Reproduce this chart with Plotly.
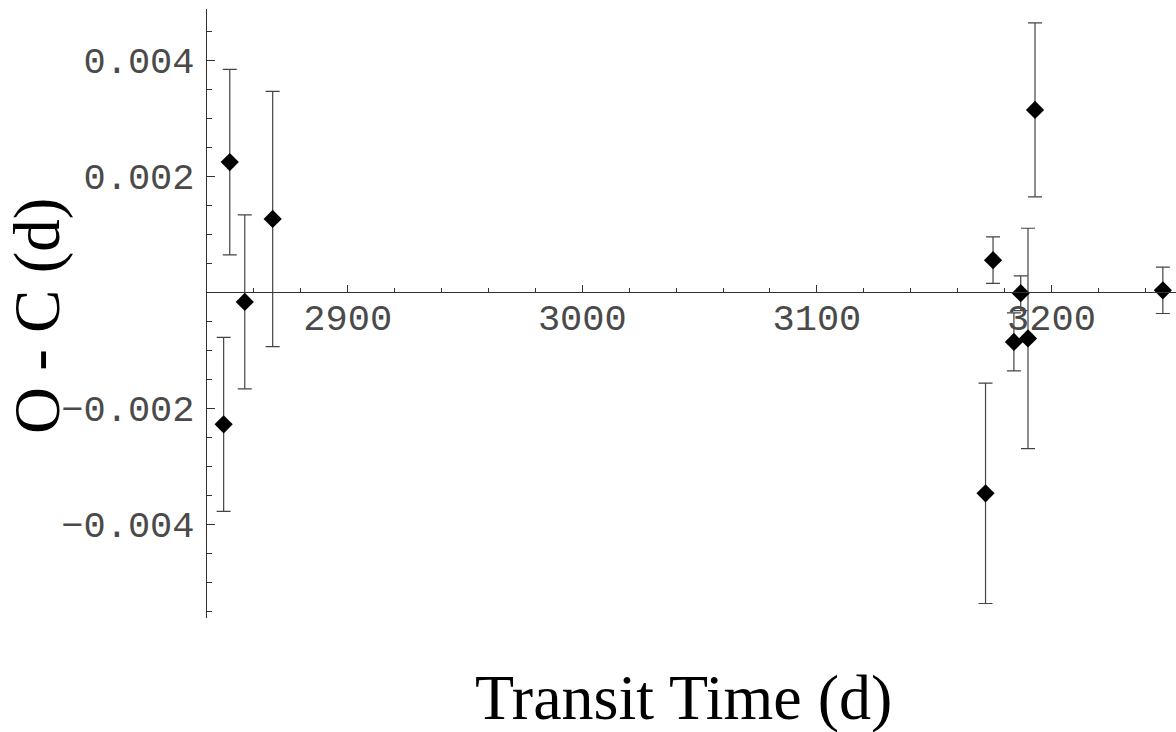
import plotly.graph_objects as go

# Data
transit_time = [2847.1, 2849.7, 2856.1, 2868.0, 3171.9, 3175.1, 3184.0, 3186.9, 3190.0, 3193.0, 3247.5]
o_minus_c = [-0.00228, 0.00224, -0.00017, 0.00126, -0.00347, 0.00055, -0.00086, -0.00002, -0.00080, 0.00314, 0.00003]
err_plus = [0.0015, 0.0016, 0.0015, 0.0022, 0.0019, 0.0004, 0.0005, 0.0003, 0.0019, 0.0015, 0.0004]
err_minus = [0.0015, 0.0016, 0.0015, 0.0022, 0.0019, 0.0004, 0.0005, 0.0003, 0.0019, 0.0015, 0.0004]

x_tickvals = [2900, 3000, 3100, 3200]
x_ticktext = ["2900", "3000", "3100", "3200"]
y_tickvals = [-0.004, -0.002, 0.002, 0.004]
y_ticktext = ["\u22120.004", "\u22120.002", "0.002", "0.004"]

x_range = [2840, 3253.1]
y_range = [-0.00562, 0.00488]

fig = go.Figure()
fig.add_trace(go.Scatter(
    x=transit_time, y=o_minus_c, mode="markers",
    marker=dict(symbol="diamond", size=14, color="black"),
    error_y=dict(type="data", symmetric=False, array=err_plus, arrayminus=err_minus,
                 color="#444444", thickness=1.2, width=7),
    cliponaxis=False, showlegend=False,
))

tick_font = dict(family="Liberation Mono", size=37, color="#4a4a4a")
zero_pos = (0 - y_range[0]) / (y_range[1] - y_range[0])

fig.update_layout(
    width=1176, height=732,
    margin=dict(l=207, r=0, t=9, b=114),
    paper_bgcolor="white", plot_bgcolor="white",
    xaxis=dict(range=x_range, anchor="free", position=zero_pos,
               showgrid=False, zeroline=False, showline=True, linecolor="#333333", linewidth=1.2,
               tickmode="array", tickvals=x_tickvals, ticktext=x_ticktext,
               ticks="inside", ticklen=7, tickwidth=1, tickcolor="#333333",
               tickfont=tick_font, ticklabelstandoff=-8,
               minor=dict(tickmode="linear", tick0=2840, dtick=20, ticks="inside",
                          ticklen=4, tickwidth=1, tickcolor="#333333", showgrid=False)),
    yaxis=dict(range=y_range, showgrid=False, zeroline=False, showline=True,
               linecolor="#333333", linewidth=1.2,
               tickmode="array", tickvals=y_tickvals, ticktext=y_ticktext,
               ticks="inside", ticklen=8, tickwidth=1, tickcolor="#333333",
               tickfont=tick_font, ticklabelstandoff=4,
               minor=dict(tickmode="linear", tick0=0, dtick=0.0005, ticks="inside",
                          ticklen=5, tickwidth=1, tickcolor="#333333", showgrid=False)),
    annotations=[
        dict(text="Transit Time (d)", xref="paper", yref="paper",
             x=(683 - 207) / 969, y=(618 - 697) / 609, xanchor="center", yanchor="middle",
             showarrow=False, font=dict(family="Liberation Serif", size=64, color="black")),
        dict(text="O - C (d)", xref="paper", yref="paper", textangle=-90,
             x=(37 - 207) / 969, y=(618 - 316) / 609, xanchor="center", yanchor="middle",
             showarrow=False, font=dict(family="Liberation Serif", size=65, color="black")),
    ],
)

fig.write_html("out.html", config={"displayModeBar": False},
               post_script="document.body.style.margin='0px';document.body.style.overflow='hidden';")
